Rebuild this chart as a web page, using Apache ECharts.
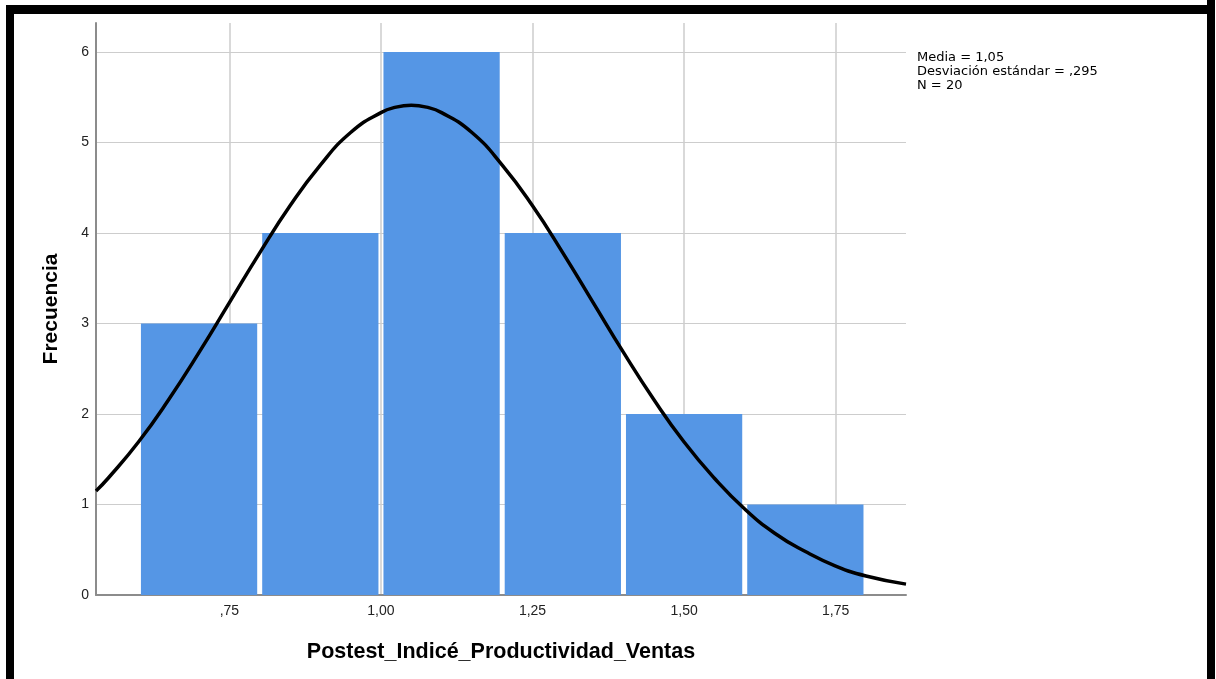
<!DOCTYPE html>
<html>
<head>
<meta charset="utf-8">
<script src="https://cdn.jsdelivr.net/npm/echarts@6/dist/echarts.min.js"></script>
<style>
html,body{margin:0;padding:0;background:#fff;}
#chart{width:1216px;height:679px;}
</style>
</head>
<body>
<div id="chart"></div>
<script>
// Histogram bins
var binStarts = [0.6, 0.8, 1.0, 1.2, 1.4, 1.6];
var binEnds   = [0.8, 1.0, 1.2, 1.4, 1.6, 1.8];
var counts    = [3, 4, 6, 4, 2, 1];
// Normal curve points
var curveX = [0.53, 0.55, 0.60, 0.65, 0.70, 0.75, 0.80, 0.85, 0.90, 0.95, 1.00, 1.025, 1.05, 1.075, 1.10, 1.15, 1.20, 1.25, 1.30, 1.35, 1.40, 1.45, 1.50, 1.55, 1.60, 1.65, 1.70, 1.75, 1.80, 1.866];
var curveY = [1.15, 1.29, 1.69, 2.16, 2.68, 3.23, 3.78, 4.30, 4.75, 5.11, 5.33, 5.39, 5.41, 5.39, 5.33, 5.11, 4.75, 4.30, 3.78, 3.23, 2.68, 2.16, 1.69, 1.29, 0.95, 0.68, 0.48, 0.32, 0.21, 0.12];
// Tick labels
var xTicks = [0.75, 1.00, 1.25, 1.50, 1.75];
var xTickLabels = [',75', '1,00', '1,25', '1,50', '1,75'];
var yTicks = [0, 1, 2, 3, 4, 5, 6];
var statsLines = ['Media = 1,05', 'Desviación estándar = ,295', 'N = 20'];
var xTitle = 'Postest_Indicé_Productividad_Ventas';
var yTitle = 'Frecuencia';

var barData = binStarts.map(function (s, i) { return [s, binEnds[i], counts[i]]; });
var curveData = curveX.map(function (x, i) { return [x, curveY[i]]; });

var FONT = '"Liberation Sans", Arial, sans-serif';
var chart = echarts.init(document.getElementById('chart'), null, {renderer: 'canvas'});
chart.setOption({
  animation: false,
  backgroundColor: '#fff',
  grid: {left: 96, right: 310, top: 23, bottom: 84, containLabel: false},
  xAxis: {
    type: 'value', min: 0.53, max: 1.866,
    name: xTitle, nameLocation: 'middle', nameGap: 46,
    nameTextStyle: {fontFamily: FONT, fontWeight: 'bold', fontSize: 21.5, color: '#000'},
    axisLine: {show: true, onZero: false, lineStyle: {color: '#8c8c8c', width: 2}},
    axisTick: {show: false, customValues: xTicks},
    axisLabel: {
      customValues: xTicks, margin: 9, fontFamily: FONT, fontSize: 14, color: '#222',
      formatter: function (v) { var i = xTicks.indexOf(+(+v).toFixed(2)); return i >= 0 ? xTickLabels[i] : ''; }
    },
    splitLine: {show: true, lineStyle: {color: '#cdcdcd', width: 1.5}}
  },
  yAxis: {
    type: 'value', min: 0, max: 6.32,
    name: yTitle, nameLocation: 'middle', nameGap: 34, nameRotate: 90,
    nameTextStyle: {fontFamily: FONT, fontWeight: 'bold', fontSize: 21, color: '#000'},
    axisLine: {show: true, lineStyle: {color: '#8c8c8c', width: 2}},
    axisTick: {show: false, customValues: yTicks},
    axisLabel: {customValues: yTicks, margin: 7, fontFamily: FONT, fontSize: 14, color: '#222'},
    splitLine: {show: true, lineStyle: {color: '#cdcdcd', width: 1}}
  },
  series: [
    {
      type: 'custom',
      data: barData,
      encode: {x: [0, 1], y: 2},
      z: 2,
      renderItem: function (params, api) {
        var p0 = api.coord([api.value(0), api.value(2)]);
        var p1 = api.coord([api.value(1), 0]);
        var inset = 2.5;
        return {
          type: 'rect',
          shape: {x: p0[0] + inset, y: p0[1], width: p1[0] - p0[0] - 2 * inset, height: p1[1] - p0[1]},
          style: {fill: '#5596e5'}
        };
      }
    },
    {
      type: 'line',
      data: curveData,
      smooth: true,
      showSymbol: false,
      symbol: 'none',
      z: 5,
      lineStyle: {color: '#000', width: 3.5}
    }
  ],
  graphic: [
    {type: 'text', left: 917, top: 51, z: 10,
     style: {text: statsLines.join('\n'), fontFamily: '"DejaVu Sans", sans-serif', fontSize: 13, lineHeight: 14, fill: '#000'}},
    {type: 'rect', shape: {x: 6, y: 5, width: 1209, height: 9}, style: {fill: '#000'}, z: 20},
    {type: 'rect', shape: {x: 6, y: 5, width: 8, height: 674}, style: {fill: '#000'}, z: 20},
    {type: 'rect', shape: {x: 1207, y: 0, width: 8, height: 679}, style: {fill: '#000'}, z: 20},
    {type: 'rect', shape: {x: 1207, y: 0, width: 8, height: 14}, style: {fill: '#000'}, z: 20}
  ]
});
</script>
</body>
</html>
